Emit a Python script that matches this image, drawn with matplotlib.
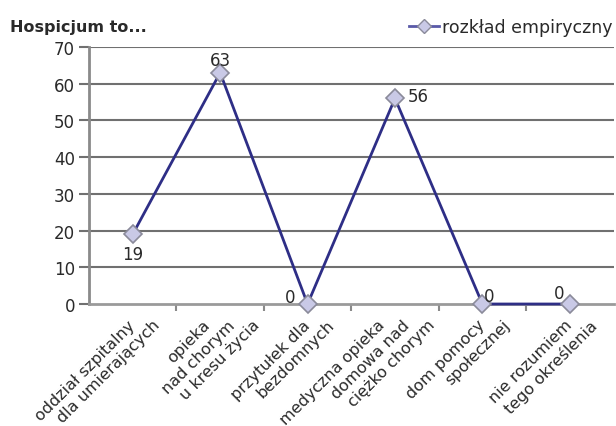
import matplotlib.pyplot as plt
import matplotlib.transforms as mtransforms
from matplotlib.lines import Line2D

plt.rcParams['font.family'] = ['DejaVu Sans']

categories = ['oddział szpitalny\ndla umierających',
              'opieka\nnad chorym\nu kresu życia',
              'przytułek dla\nbezdomnych',
              'medyczna opieka\ndomowa nad\nciężko chorym',
              'dom pomocy\nspołecznej',
              'nie rozumiem\ntego określenia']
values = [19, 63, 0, 56, 0, 0]
# label placement around each point: (dx, dy) in points, ha, va
label_pos = [(0, -8, 'center', 'top'),
             (0, 3, 'center', 'bottom'),
             (-9, 5, 'right', 'center'),
             (9, 2, 'left', 'center'),
             (1, 6, 'left', 'center'),
             (-4, 8, 'right', 'center')]

line_col = '#2e2e86'
face_col = '#c9c9e6'
edge_col = '#8a8a9a'
grid_col = '#707070'
text_col = '#2a2a2a'

fig = plt.figure(figsize=(6.16, 4.27), dpi=100)
ax = fig.add_axes([0.1445, 0.2857, 0.8515, 0.6019])

x = list(range(len(categories)))
ax.plot(x, values, color=line_col, lw=2, marker='D', ms=9,
        mfc=face_col, mec=edge_col, mew=1.2, zorder=5, clip_on=False)

for xi, v, (dx, dy, ha, va) in zip(x, values, label_pos):
    ax.annotate(str(v), (xi, v), xytext=(dx, dy), textcoords='offset points',
                ha=ha, va=va, fontsize=12, color=text_col, zorder=6)

ax.set_xlim(-0.5, len(categories) - 0.5)
ax.set_ylim(0, 70)
ax.set_yticks(range(0, 71, 10))
for yv in range(10, 71, 10):
    ax.axhline(yv, color=grid_col, lw=1.5, zorder=1)

# ticks sit between categories
ax.set_xticks([i + 0.5 for i in range(len(categories) - 1)])
ax.set_xticklabels([])

# rotated category names: each line ends on the same height, stepped to the right
for xi, label in zip(x, categories):
    lines = label.split('\n')
    n = len(lines)
    for j, ln in enumerate(lines):
        dx = 7 + (j - (n - 1) / 2) * 25
        tr = ax.get_xaxis_transform() + mtransforms.ScaledTranslation(
            dx / 100, -13 / 100, fig.dpi_scale_trans)
        ax.text(xi, 0, ln, transform=tr, rotation=45, rotation_mode='anchor',
                ha='right', va='top', fontsize=11.5, color=text_col)

ax.tick_params(axis='x', length=5, width=1.5, color='#8a8a8a',
               direction='out')
ax.tick_params(axis='y', length=7, width=1.5, color=grid_col, labelsize=12,
               labelcolor=text_col, pad=3)

for s in ['top', 'right']:
    ax.spines[s].set_visible(False)
ax.spines['left'].set_color('#8a8a8a')
ax.spines['left'].set_linewidth(2)
ax.spines['bottom'].set_color('#9a9a9a')
ax.spines['bottom'].set_linewidth(2)

fig.text(0.016, 0.935, 'Hospicjum to...', fontsize=11.5, fontweight='bold',
         color=text_col, va='center')

handle = Line2D([], [], color='#5a5aa8', lw=2, marker='D', ms=7,
                mfc=face_col, mec=edge_col)
fig.legend([handle], ['rozkład empiryczny'], loc='center right',
           bbox_to_anchor=(1.02, 0.935), frameon=False, fontsize=12.5,
           handlelength=1.7, handletextpad=0.2, labelcolor=text_col)

fig.savefig('out.png', dpi=100)
